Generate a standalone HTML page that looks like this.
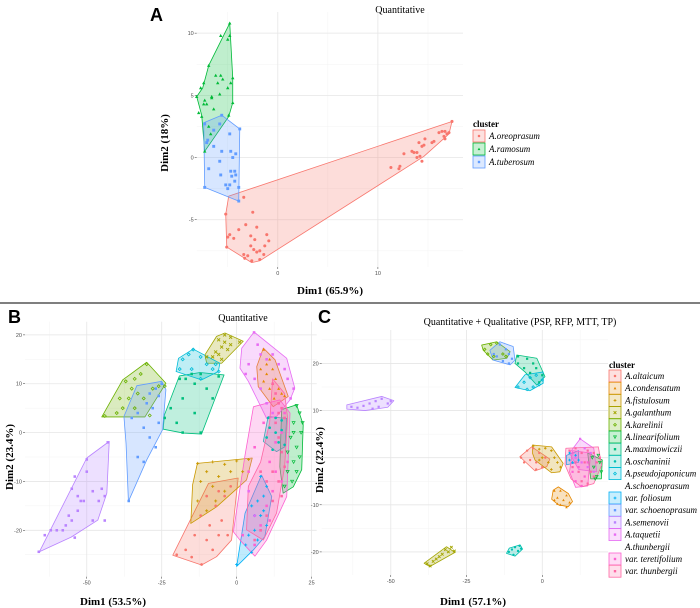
<!DOCTYPE html>
<html><head><meta charset="utf-8">
<style>
html,body{margin:0;padding:0;background:#fff;}
svg{display:block;}
.tk{font-family:"Liberation Sans",sans-serif;font-size:5.5px;fill:#4d4d4d;}
.ttl{font-family:"Liberation Serif",serif;font-size:10px;fill:#000;}
.axt{font-family:"Liberation Serif",serif;font-size:11px;font-weight:bold;fill:#000;}
.lg{font-family:"Liberation Serif",serif;font-size:9px;font-style:italic;fill:#000;}
.lgh{font-family:"Liberation Serif",serif;font-size:9px;font-weight:bold;fill:#000;}
.pl{font-family:"Liberation Sans",sans-serif;font-size:18px;font-weight:bold;fill:#000;}
</style></head>
<body>
<svg id="fig" width="700" height="608" viewBox="0 0 700 608">
<rect x="0" y="0" width="700" height="608" fill="#fff"/>
<line x1="0" y1="303" x2="700" y2="303" stroke="#7f7f7f" stroke-width="2"/>
<text class="pl" x="150" y="21">A</text>
<text class="ttl" x="400" y="13" text-anchor="middle">Quantitative</text>
<text class="axt" x="330" y="294" text-anchor="middle">Dim1 (65.9%)</text>
<text class="axt" transform="translate(168,143) rotate(-90)" text-anchor="middle">Dim2 (18%)</text>
<text class="pl" x="8" y="323">B</text>
<text class="ttl" x="243" y="321" text-anchor="middle">Quantitative</text>
<text class="axt" x="113" y="605" text-anchor="middle">Dim1 (53.5%)</text>
<text class="axt" transform="translate(13,457) rotate(-90)" text-anchor="middle">Dim2 (23.4%)</text>
<text class="pl" x="318" y="323">C</text>
<text class="ttl" x="520" y="325" text-anchor="middle">Quantitative + Qualitative (PSP, RFP, MTT, TP)</text>
<text class="axt" x="473" y="605" text-anchor="middle">Dim1 (57.1%)</text>
<text class="axt" transform="translate(323,460) rotate(-90)" text-anchor="middle">Dim2 (22.4%)</text>
<g id="layer"></g>
</svg>
<script>
// ---------- Panel A data ----------
const aNames = ["A.oreoprasum","A.ramosum","A.tuberosum"];
const aColors = ["#F8766D","#00BA38","#619CFF"];
const aHulls = [
 [[17.4,2.9],[17.1,1.9],[14.6,0.1],[-1.8,-8.3],[-2.6,-8.45],[-5.1,-7.2],[-5.2,-4.55],[-4.9,-3.1]],
 [[-4.8,10.8],[-4.5,6.4],[-4.5,4.4],[-4.9,3.3],[-7.3,0.5],[-7.6,3.4],[-8.1,4.9],[-7.5,5.6],[-6.9,7.4]],
 [[-5.6,3.4],[-3.8,2.3],[-3.9,-3.5],[-7.3,-2.4],[-7.4,2.8]]
];
const aPoints = [
 [[-3.4,-3.2],[-2.5,-4.4],[-3.2,-5.4],[-2.1,-5.6],[-3.9,-5.8],[-5.2,-4.55],[-4.8,-6.2],[-4.4,-6.5],[-5,-6.4],[-2.7,-6.3],[-1.1,-6.2],[-2.3,-6.6],[-0.9,-6.7],[-1.3,-7.1],[-2.7,-7.1],[-2.4,-7.4],[-2.1,-7.6],[-1.8,-7.5],[-3.4,-7.8],[-3,-7.9],[-3.3,-8.1],[-1.4,-7.8],[-2.6,-8.3],[-1.8,-8.2],[-5.1,-7.2],
  [11.3,-0.8],[12.2,-0.7],[12.1,-0.9],[12.6,0.3],[13.4,0.5],[13.6,0.4],[13.9,0.4],[13.9,0],[14.2,0.1],[14.4,-0.3],[14.1,1.2],[14.4,0.9],[14.6,1],[14.7,1.5],[15.4,1.2],[15.6,1.3],[16.1,2],[16.4,2.1],[16.7,2.1],[16.6,1.7],[16.9,1.9],[16.7,1.5],[17.1,2],[17.4,2.9]],
 [[-4.8,10.8],[-5.7,9.8],[-5,9.5],[-4.8,9.8],[-6.9,7.4],[-6.2,6.6],[-5.7,6.6],[-5.5,6.3],[-6,6],[-4.7,6],[-4.5,6.4],[-7.4,6],[-7.7,5.6],[-5,5.6],[-6.6,4.9],[-6.6,4.8],[-8.1,4.9],[-7.3,4.6],[-7.4,4.3],[-7.1,4.3],[-5.8,5.1],[-4.5,4.4],[-7.9,3.6],[-6.4,3.9],[-7.6,3.3],[-4.9,3.4],[-6.7,1.9],[-6.9,2.5],[-7.3,0.5]],
 [[-5.6,3.4],[-7.3,2.7],[-5.8,2.7],[-6.4,2.2],[-3.8,2.3],[-4.8,1.9],[-7,1.4],[-7.1,1.2],[-6.4,0.9],[-5.6,0.5],[-4.7,0.5],[-4.2,0.3],[-4.5,0],[-5.8,-0.3],[-6.9,-0.9],[-4.7,-1.1],[-4.3,-1.1],[-4.2,-1.4],[-5.7,-1.4],[-4.6,-1.5],[-4.3,-1.9],[-5.2,-2.2],[-4.8,-2.2],[-5,-2.5],[-3.9,-2.4],[-7.3,-2.4],[-3.9,-3.5]]
];
const aXTicks = [0,10];
const aYTicks = [-5,0,5,10];

// ---------- Panels B & C shared categories ----------
const bcNames = ["A.altaicum","A.condensatum","A.fistulosum","A.galanthum","A.karelinii","A.linearifolium","A.maximowiczii","A.oschaninii","A.pseudojaponicum","var. foliosum","var. schoenoprasum","A.semenovii","A.taquetii","var. teretifolium","var. thunbergii"];
const bcColors = ["#F8766D","#E58700","#C99800","#A3A500","#6BB100","#00BA38","#00BF7D","#00C0AF","#00BCD8","#00B0F6","#619CFF","#B983FF","#E76BF3","#FD61D1","#FF67A4"];
const bcShapes = ["circle","triangle","plus","cross","diamond","tridown","square","star","diamond","plus","square","square","square","square","square"];

// ---------- Panel B data ----------
const bHulls = [
 [[0.5,-9.3],[-1.7,-22],[-6.7,-25.4],[-11.7,-27.1],[-21.3,-25.1],[-9.4,-10.4]],
 [[8.9,17.3],[12.8,14.9],[17.2,7.4],[12.2,5.3],[7.2,9.4],[6.7,13.5]],
 [[-13.1,-6.3],[5.2,-5.2],[3.3,-9.7],[-6.7,-15.2],[-15.3,-18.6],[-14.7,-10.7]],
 [[-3.9,20.4],[2.2,18.7],[-5,14.2],[-10,14.2],[-10.6,15.9],[-6.7,19.7]],
 [[-30,14.4],[-23.6,10.1],[-30.6,3.2],[-45,3.2],[-38,10.8]],
 [[20,5.7],[22.2,1.6],[21.7,-7.6],[18.9,-11.1],[15.5,-12.4],[14.4,-7],[15,4.7]],
 [[-4.2,11.8],[-11.7,-0.3],[-17.8,-0.1],[-24.5,0.7],[-24.1,3.6],[-19.1,11.6],[-12.2,12.3]],
 [[10.5,3.3],[16.7,2.9],[16.1,-2.9],[13.3,-3.9],[8.9,-1.8]],
 [[-14.5,17.1],[-5.6,14.2],[-6.1,12.5],[-11.7,10.8],[-20.2,12.5],[-19.4,15.2]],
 [[8.3,-8.7],[11.7,-13.1],[9.4,-21.3],[5.6,-24],[0,-27.4],[2.8,-16.5]],
 [[-25,10.5],[-23.6,8.8],[-24.7,0.6],[-30,-5.6],[-36.1,-14.1],[-36.9,-2.2],[-37.6,3.3],[-33.3,9.6]],
 [[-42.5,-1.8],[-43.3,-12.4],[-46.3,-17.9],[-55.2,-21.4],[-65.8,-24.4],[-63,-21],[-50,-5.2]],
 [[5.8,20.6],[16.7,15.2],[19.4,9.1],[17.8,6.7],[13.3,3.3],[10,2.9],[3.9,10.5],[1.1,13.2],[1.7,17.3]],
 [[14.4,6.7],[17.8,4],[16.7,-13.1],[10,-22],[6.1,-25.3],[1.1,-22],[-1.1,-20.3],[2.8,-4.6],[5.6,5.3]],
 [[12,11],[16,8],[17,3],[16,-7],[13.3,-16.5],[8.9,-22],[3.3,-19.9],[3.9,-11],[8,-6],[11,2]]
];
const bPoints = [
 [[-20,-25],[-15,-25.5],[-11.7,-27],[-8,-24],[-6,-21],[-9,-19],[-12,-17],[-7,-15],[-4,-13],[-10,-13],[-2,-11],[-5,-18],[-14,-21],[-3,-21],[-17,-24],[-10,-22],[-6,-12]],
 [[9,17],[11,15],[12,13],[10,12],[13,11],[8,13],[14,9],[15,8],[11,9],[9,10.5],[12.5,7],[16,7.5],[10,14],[12,10]],
 [[-13,-6.3],[-8,-6],[-4,-6.5],[0,-5.8],[4,-5.5],[-10,-8],[-6,-9],[-2,-8],[-12,-10],[-8,-11],[-4,-12],[-13,-14],[-7,-14],[2,-8],[-10,-16]],
 [[-4,20],[-2,19.5],[1,18.5],[-6,19],[-5,17.5],[-3,17],[-7,16.5],[-8,15.5],[-5,15],[-10,15.5],[-2,18],[-4,18.5],[-6,16]],
 [[-30,14],[-32,12],[-37,10.5],[-35,9],[-33,8],[-36,7],[-31,7],[-28,9],[-26,9.5],[-38,5],[-40,4],[-44,3.4],[-34,5],[-29,3.5],[-24,9.5],[-34,11],[-39,7]],
 [[20,5.5],[21,4],[22,2],[21.5,0],[19,2],[18,-1],[20,-3],[21,-5],[19,-6],[17,-8],[18.5,-10],[16,-11],[20,-8],[19,0],[17,-4]],
 [[-12,12],[-15,12],[-17,11],[-19,11],[-14,10],[-10,9],[-18,7],[-22,5],[-14,4],[-20,2],[-24,3],[-18,0],[-12,0],[-6,11.5],[-8,7]],
 [[10.5,3],[13,3],[15,2.5],[11,1],[13,0],[15,0.5],[10,-1],[14,-2],[16,-2.5],[12,-3.5]],
 [[-14.5,17],[-12,15.5],[-16,16],[-18,15],[-19,13],[-15,13],[-10,14],[-8,13],[-7,14],[-12,11],[-6,12.5]],
 [[8,-9],[10,-11],[9,-13],[7,-14],[5,-15],[8,-17],[10,-19],[6,-20],[4,-21],[7,-22],[3,-23],[5,-24.5],[0,-27],[6,-17],[9,-16]],
 [[-25,10],[-27,9],[-29,8],[-26,7.5],[-30,6],[-28,5],[-33,4],[-35,3],[-26,2],[-31,1],[-29,-1],[-27,-3],[-33,-5],[-31,-6],[-36,-14]],
 [[-50,-5.5],[-54,-9],[-55,-11.5],[-53,-13],[-52,-14],[-51,-14],[-48,-12],[-45,-11.5],[-46,-14],[-44,-13],[-53,-16],[-56,-17],[-57,-19],[-58,-20],[-60,-20],[-62,-20],[-54,-21.5],[-48,-18],[-55,-18],[-50,-8],[-43,-2],[-44,-18],[-66,-24.4],[-64,-21]],
 [[5.8,20.5],[7,18],[8,16],[10,15],[12,16],[14,14],[16,13],[17,11],[19,9],[3,12],[4,14],[6,11],[8,9],[10,6],[12,4],[18,7],[4,-12],[6,-17],[8,-20]],
 [[14,6],[16,4],[15,0],[13,-2],[17,-6],[15,-10],[12,-12],[10,-15],[8,-19],[6,-23],[2,-21],[4,-8],[6,-3],[9,2],[11,-6],[13,-8],[11,-18]],
 [[12,10],[13,8],[14,6],[15,5],[16,3],[13,2],[14,-1],[15,-4],[16,-7],[14,-10],[12,-14],[10,-17],[8,-20],[6,-22],[10,-10],[8,-8],[12,-8],[14,4],[15,-13]]
];
const bXTicks = [-50,-25,0,25];
const bYTicks = [-20,-10,0,10,20];

// ---------- Panel C data ----------
const cHulls = [
 [[-3.5,2.3],[2.5,-0.3],[1.5,-1.9],[-2.4,-2.8],[-7.4,0.2]],
 [[5.3,-6.2],[8.6,-7.6],[10,-9.3],[8.6,-10.4],[5.3,-10],[3.1,-8.8],[3.6,-6.9]],
 [[-3.2,2.7],[3.1,2.3],[6.9,-1.2],[5.8,-3],[3.1,-3.2],[-2.4,-0.5],[-3.2,0.9]],
 [[-31.6,-18.9],[-28.8,-20.1],[-37.1,-23.1],[-39,-22.4]],
 [[-20,23.9],[-15,24.6],[-10.6,22.5],[-11.7,21.1],[-16.2,20.7],[-19.5,22.8]],
 [[15,1],[19.8,-0.5],[19.5,-4.5],[16,-4.5]],
 [[-8.4,21.8],[-1.8,21.1],[0.9,17.2],[-1.8,15.4],[-5.7,18.2],[-9,20]],
 [[-7.3,-18.5],[-6.5,-19.4],[-9,-20.9],[-11.8,-20.3],[-10.9,-19.2]],
 [[-5.7,17.6],[0.3,18.2],[0.3,15.8],[-4.1,14.2],[-9,14.9]],
 [[8,0.5],[12,1.5],[12,-1],[8,-1.5]],
 [[-14,24.6],[-9.6,23.6],[-9,20.7],[-10.6,19.7],[-16.2,20.7],[-17.3,22.8]],
 [[-64.5,11.2],[-53,13],[-49,12.1],[-51,10.7],[-58.5,10],[-64.5,10.3]],
 [[12.5,4],[17,2],[18,-3],[12,-2.5],[9,1]],
 [[10,1.5],[16,1],[15,-6],[11,-6.3],[9,-3]],
 [[7.8,2],[18.5,2.3],[19.6,-1.6],[17,-5.5],[13,-6.2],[9.5,-4.5],[7.5,-1.5]]
];
const cPoints = [
 [[-7,0],[-5,1.5],[-3,2],[-1,1],[1,0],[-2,-1],[-4,-0.5],[0,-2],[-2,-2.5],[-6,-1]],
 [[4,-7],[6,-7],[8,-8],[5,-8.5],[7,-9],[9,-9.5],[4,-9],[6,-10],[8,-10.5],[5,-9.8]],
 [[-3,2.5],[-1,1.8],[1,2],[3,1.5],[4,0],[0,0],[2,-1],[5,-1],[3,-2.5],[-1,-0.5],[6,-2]],
 [[-38,-22.5],[-36,-22],[-34,-21],[-32,-19.5],[-30,-19],[-33,-20.5],[-35,-21.5],[-31,-20],[-37,-23],[-29,-19.8]],
 [[-19,23],[-17,24],[-15,24.3],[-18,22],[-16,21.5],[-13,22],[-12,21.5]],
 [[19,-1],[19.5,-3],[18,-4],[17,-2],[16.5,0],[18.5,0.5],[17.5,-4.5]],
 [[-8,21.5],[-5,21],[-3,20],[-2,19],[0,17.5],[-6,19],[-4,18],[-1,16],[-8,20]],
 [[-11,-20],[-10,-19.5],[-9,-19],[-7.5,-18.7],[-8,-19.8],[-9.5,-20.6],[-7,-19.3]],
 [[-8,15],[-6,16],[-4,17],[-2,17.5],[0,16.5],[-3,15],[-5,14.5],[-1,15.5]],
 [[9,1],[11,0.5],[10,-1],[12,-0.5],[9,-0.5]],
 [[-16,22],[-14,24],[-12,23],[-11,22],[-10,21],[-13,20.5],[-15,21.5],[-11,20]],
 [[-63,10.8],[-61,10.6],[-59,11],[-57,11.5],[-55,12],[-53,12.5],[-51,11.5],[-54,10.8],[-56,10.4],[-50,12]],
 [[12.5,4],[14,2],[16,1],[13,-1],[11,0],[15,-2],[17,-3]],
 [[10,1],[12,-2],[14,-4],[11,-5],[13,-6],[15,-1],[10,-3]],
 [[9,1.5],[11,2],[13,1],[15,1.5],[17,1],[18,-1],[16,-3],[14,-1],[12,-3],[10,-2],[13,-5],[15,-5.5],[17,-4],[19,0],[11,-1]]
];
const cXTicks = [-50,-25,0];
const cYTicks = [-20,-10,0,10,20];

const NS = "http://www.w3.org/2000/svg";
const layer = document.getElementById("layer");
function mk(tag, attrs, parent){
  const e = document.createElementNS(NS, tag);
  for (const k in attrs) e.setAttribute(k, attrs[k]);
  (parent||layer).appendChild(e);
  return e;
}
function scale(d0,d1,r0,r1){ return v => r0 + (v-d0)*(r1-r0)/(d1-d0); }

function marker(g, shape, x, y, col, s){
  let e;
  if (shape==="circle"){ e = mk("circle",{cx:x,cy:y,r:s*0.9,fill:col},g); }
  else if (shape==="triangle"){ e = mk("polygon",{points:`${x},${y-s} ${x-s},${y+s*0.8} ${x+s},${y+s*0.8}`,fill:col},g); }
  else if (shape==="tridown"){ e = mk("polygon",{points:`${x},${y+s} ${x-s},${y-s*0.8} ${x+s},${y-s*0.8}`,fill:"none",stroke:col,"stroke-width":0.7},g); }
  else if (shape==="plus"){ e = mk("path",{d:`M${x-s} ${y}H${x+s}M${x} ${y-s}V${y+s}`,stroke:col,"stroke-width":0.9},g); }
  else if (shape==="cross"){ e = mk("path",{d:`M${x-s} ${y-s}L${x+s} ${y+s}M${x-s} ${y+s}L${x+s} ${y-s}`,stroke:col,"stroke-width":0.9},g); }
  else if (shape==="diamond"){ e = mk("polygon",{points:`${x},${y-s} ${x+s},${y} ${x},${y+s} ${x-s},${y}`,fill:"none",stroke:col,"stroke-width":0.8},g); }
  else if (shape==="star"){ e = mk("circle",{cx:x,cy:y,r:s*0.9,fill:col},g); }
  else { e = mk("rect",{x:x-s*0.85,y:y-s*0.85,width:s*1.7,height:s*1.7,fill:col},g); }
  
  
  return e;
}

function panel(cfg){
  const sx = scale(cfg.xd[0],cfg.xd[1],cfg.x0,cfg.x1);
  const sy = scale(cfg.yd[0],cfg.yd[1],cfg.y1,cfg.y0);
  const g = mk("g",{});
  
  
  cfg.xMinor.forEach(v=>{ const X=sx(v); if(X>cfg.x0&&X<cfg.x1){ const l=mk("line",{x1:X,x2:X,y1:cfg.y0,y2:cfg.y1,stroke:"#f3f3f3","stroke-width":0.5},g);
     }});
  cfg.yMinor.forEach(v=>{ const Y=sy(v); if(Y>cfg.y0&&Y<cfg.y1){ const l=mk("line",{x1:cfg.x0,x2:cfg.x1,y1:Y,y2:Y,stroke:"#f3f3f3","stroke-width":0.5},g);
     }});
  cfg.xTicks.forEach(v=>{ const X=sx(v);
    const l=mk("line",{x1:X,x2:X,y1:cfg.y0,y2:cfg.y1,stroke:"#e6e6e6","stroke-width":0.8},g);
     
    const tm=mk("line",{x1:X,x2:X,y1:cfg.y1,y2:cfg.y1+2,stroke:"#333","stroke-width":0.5},g);
     
    const t=mk("text",{x:X,y:cfg.y1+8,"text-anchor":"middle",class:"tk"},g); t.textContent=v;
     });
  cfg.yTicks.forEach(v=>{ const Y=sy(v);
    const l=mk("line",{x1:cfg.x0,x2:cfg.x1,y1:Y,y2:Y,stroke:"#e6e6e6","stroke-width":0.8},g);
     
    const tm=mk("line",{x1:cfg.x0-2,x2:cfg.x0,y1:Y,y2:Y,stroke:"#333","stroke-width":0.5},g);
     
    const t=mk("text",{x:cfg.x0-3,y:Y+2,"text-anchor":"end",class:"tk"},g); t.textContent=v;
     });
  cfg.hulls.forEach((h,i)=>{
    const p=mk("polygon",{points:h.map(q=>sx(q[0])+","+sy(q[1])).join(" "),fill:cfg.colors[i],"fill-opacity":0.25,stroke:cfg.colors[i],"stroke-width":0.8,"stroke-linejoin":"round"},g);
    
    
  });
  cfg.points.forEach((ps,i)=>{
    ps.forEach(q=>marker(g,cfg.shapes[i],sx(q[0]),sy(q[1]),cfg.colors[i],cfg.ms));
  });
}

panel({id:"panel-a",xd:[-8.1,18.5],yd:[-8.8,11.7],x0:196.7,x1:463,y0:12,y1:267,
  xTicks:aXTicks,yTicks:aYTicks,xMinor:[-5,5,15],yMinor:[-7.5,-2.5,2.5,7.5],
  hulls:aHulls,points:aPoints,colors:aColors,names:aNames,shapes:["circle","triangle","square"],ms:1.7});
panel({id:"panel-b",xd:[-70.6,26.7],yd:[-29.5,22.7],x0:25,x1:316.7,y0:321.7,y1:576.7,
  xTicks:bXTicks,yTicks:bYTicks,xMinor:[-62.5,-37.5,-12.5,12.5],yMinor:[-25,-15,-5,5,15],
  hulls:bHulls,points:bPoints,colors:bcColors,names:bcNames,shapes:bcShapes,ms:1.5});
panel({id:"panel-c",xd:[-72.8,21.7],yd:[-24.9,27.1],x0:321.7,x1:608,y0:330,y1:575,
  xTicks:cXTicks,yTicks:cYTicks,xMinor:[-62.5,-37.5,-12.5,12.5],yMinor:[-25,-15,-5,5,15,25],
  hulls:cHulls,points:cPoints,colors:bcColors,names:bcNames,shapes:bcShapes,ms:1.3});

function legendEntry(x,y,col,shape,label){
  const g=mk("g",{});
  
  
  mk("rect",{x:x,y:y-6,width:12,height:12,fill:col,"fill-opacity":0.22,stroke:col,"stroke-width":0.8},g);
  marker(g,shape,x+6,y,col,1.4);
  const t=mk("text",{x:x+16,y:y+3,class:"lg"},g); t.textContent=label;
  
  
}
const lgA=mk("text",{x:473,y:127,class:"lgh"});
lgA.textContent="cluster";


aNames.forEach((n,i)=>legendEntry(473,136+i*13,aColors[i],["circle","triangle","square"][i],n));

const lgC=mk("text",{x:609,y:368,class:"lgh"});
lgC.textContent="cluster";


let row=0;
bcNames.forEach((n,i)=>{
  if (i===9 || i===13){
    const h=mk("text",{x:625,y:376+row*12.2+3,class:"lg"});
    h.textContent = i===9 ? "A.schoenoprasum" : "A.thunbergii";
    
    
    row++;
  }
  legendEntry(609,376+row*12.2,bcColors[i],bcShapes[i],n);
  row++;
});
</script>
</body></html>
